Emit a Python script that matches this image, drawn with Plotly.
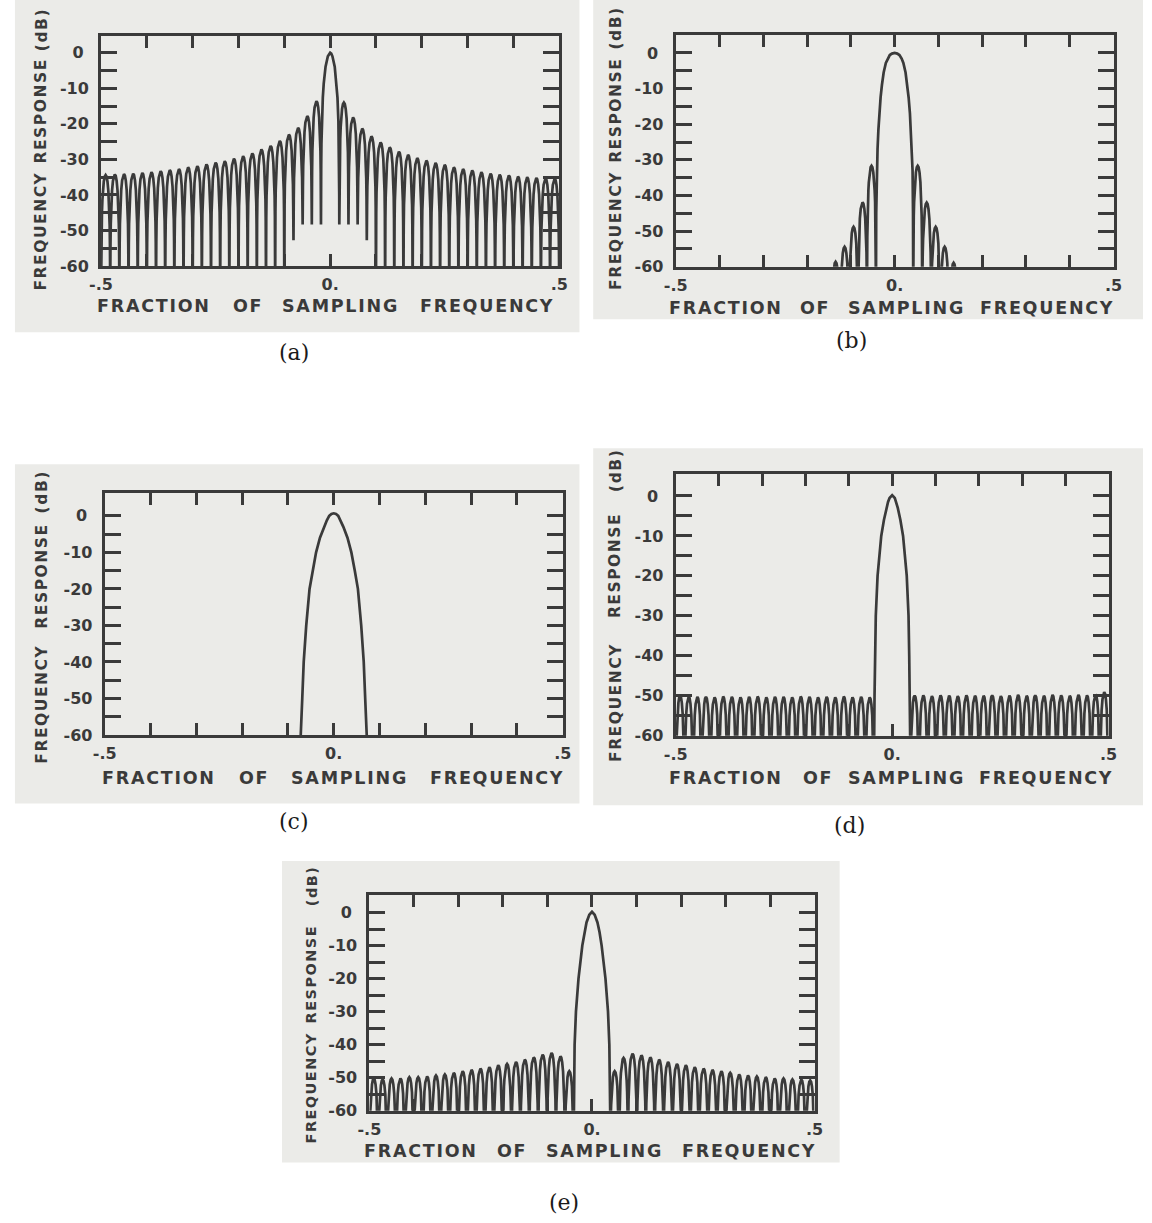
import plotly.graph_objects as go

W, H = 1152, 1223
INK = "#3a3a3a"
SCAN = "#ebebe8"
FLOOR = -66.0  # depth used for nulls that fall below the plotted range

# ---------------- axes ----------------
X_TICK_VALUES = [-0.5, -0.4, -0.3, -0.2, -0.1, 0.0, 0.1, 0.2, 0.3, 0.4, 0.5]
X_TICK_LABELS = ["-.5", "", "", "", "", "0.", "", "", "", "", ".5"]
Y_TICK_VALUES = [-60, -55, -50, -45, -40, -35, -30, -25, -20, -15, -10, -5, 0]
Y_TICK_LABELS = ["-60", "", "-50", "", "-40", "", "-30", "", "-20", "", "-10", "", "0\u2004"]

X_TITLE_WORDS = ["FRACTION", "OF", "SAMPLING", "FREQUENCY"]
Y_TITLE_WORDS = ["FREQUENCY", "RESPONSE", "(dB)"]
PANEL_LABELS = ["(a)", "(b)", "(c)", "(d)", "(e)"]

# drawing profile of one sidelobe (position within lobe, dB relative to lobe peak)
LOBE_POS = [0.03, 0.06, 0.10, 0.15, 0.20, 0.30, 0.40, 0.50, 0.60, 0.70, 0.80, 0.85, 0.90, 0.94, 0.97]
LOBE_DB = [-20.0, -14.0, -10.2, -6.9, -4.6, -1.8, -0.4, 0.0, -0.4, -1.8, -4.6, -6.9, -10.2, -14.0, -20.0]

# ---------------- (a) ----------------
A_MAIN_F = [0.0, 0.0025, 0.005, 0.010, 0.014, 0.016, 0.018, 0.019, 0.0195, 0.0198, 0.020]
A_MAIN_DB = [0.0, -0.25, -1.0, -3.9, -8.7, -12.6, -19.2, -25.6, -31.8, -40.0, -48.3]
A_PEAKS_LEFT = [-13.6, -17.8, -21.1, -23.0, -24.8, -26.2, -27.2, -28.3, -29.1, -29.8, -30.5, -30.9,
                -31.4, -31.9, -32.2, -32.7, -33.0, -33.3, -33.6, -33.8, -34.0, -34.1, -34.2, -34.4]
A_PEAKS_RIGHT = [-14.0, -18.2, -21.3, -23.5, -25.2, -26.6, -27.8, -28.7, -29.6, -30.3, -31.0, -31.5,
                 -32.2, -32.7, -33.1, -33.6, -34.0, -34.3, -34.5, -34.8, -35.0, -35.2, -35.3, -35.4]
A_NULLS = [-48.3, -48.3, -52.7]
A_LOBE_W = 0.02

# ---------------- (b) ----------------
B_MAIN_F = [0.0, 0.006, 0.011, 0.016, 0.020, 0.025, 0.029, 0.032, 0.035, 0.037, 0.039, 0.041, 0.042, 0.0425]
B_MAIN_DB = [0.0, -0.2, -0.6, -1.6, -2.8, -5.5, -9.0, -12.5, -17.0, -21.5, -27.0, -33.0, -45.0, -66.0]
B_PEAKS_LEFT = [-31.7, -41.9, -48.8, -54.4, -58.6]
B_PEAKS_RIGHT = [-31.7, -42.0, -48.8, -54.4, -58.9]
B_NULLS = []
B_LOBE_W = 0.0205

# ---------------- (c) ----------------
C_MAIN_F = [0.0, 0.005, 0.0099, 0.015, 0.021, 0.030, 0.0385, 0.046, 0.0528, 0.060, 0.0655, 0.0687, 0.0726, 0.074]
C_MAIN_DB = [0.7, 0.5, 0.0, -1.2, -3.0, -6.0, -10.0, -15.0, -20.0, -30.0, -40.0, -50.0, -60.0, -66.0]
C_PEAKS_LEFT = []
C_PEAKS_RIGHT = []
C_NULLS = []
C_LOBE_W = 0.02

# ---------------- (d) ----------------
D_MAIN_F = [0.0, 0.006, 0.0095, 0.013, 0.019, 0.0252, 0.0337, 0.0378, 0.0394, 0.0407, 0.042]
D_MAIN_DB = [0.2, -0.5, -1.5, -3.0, -6.0, -10.0, -20.0, -30.0, -40.0, -50.0, -66.0]
D_PEAKS_LEFT = [-50.4, -50.3, -50.4, -50.2, -50.4, -50.3, -50.4, -50.3, -50.2, -50.4, -50.3, -50.3,
                -50.4, -50.2, -50.3, -50.4, -50.3, -50.2, -50.4, -50.3, -50.3, -50.2, -50.0]
D_PEAKS_RIGHT = [-50.0, -49.9, -50.1, -49.9, -50.0, -50.1, -49.9, -50.0, -50.0, -49.9, -50.1, -50.0,
                 -49.8, -50.0, -49.9, -50.0, -49.8, -49.9, -50.0, -49.8, -49.9, -49.7, -49.1]
D_NULLS = []
D_LOBE_W = 0.0199

# ---------------- (e) ----------------
E_MAIN_F = [0.0, 0.006, 0.0123, 0.017, 0.0217, 0.0303, 0.036, 0.039, 0.0406, 0.041]
E_MAIN_DB = [0.2, -0.7, -3.0, -6.0, -10.0, -20.0, -30.0, -40.0, -50.0, -66.0]
E_PEAKS_LEFT = [-48.0, -43.5, -42.5, -43.0, -43.8, -44.5, -45.2, -45.8, -46.2, -46.8, -47.2, -47.6,
                -48.0, -48.5, -49.0, -49.3, -49.6, -49.8, -49.8, -50.2, -50.2, -50.5, -50.2]
E_PEAKS_RIGHT = [-48.0, -44.0, -42.7, -43.2, -43.8, -44.5, -45.2, -45.8, -46.2, -46.8, -47.2, -47.6,
                 -48.0, -48.5, -49.0, -49.3, -49.6, -49.8, -50.2, -50.2, -50.5, -50.5, -50.8]
E_NULLS = []
E_LOBE_W = 0.01996

SERIES = [
    (A_MAIN_F, A_MAIN_DB, A_PEAKS_LEFT, A_PEAKS_RIGHT, A_NULLS, A_LOBE_W),
    (B_MAIN_F, B_MAIN_DB, B_PEAKS_LEFT, B_PEAKS_RIGHT, B_NULLS, B_LOBE_W),
    (C_MAIN_F, C_MAIN_DB, C_PEAKS_LEFT, C_PEAKS_RIGHT, C_NULLS, C_LOBE_W),
    (D_MAIN_F, D_MAIN_DB, D_PEAKS_LEFT, D_PEAKS_RIGHT, D_NULLS, D_LOBE_W),
    (E_MAIN_F, E_MAIN_DB, E_PEAKS_LEFT, E_PEAKS_RIGHT, E_NULLS, E_LOBE_W),
]

# ---------------- page layout (pixels) ----------------
PANELS = [
    dict(box=(90.7, 36.0, 557.4, 268.3), ytop=4.8, patch=(3, 0, 578, 335), cap=(287, 355),
         xt_y=309, xt_x=(143.5, 240, 334, 483), yt_x=30, yt_y=(233, 112, 30), yt_size=15.5),
    dict(box=(676, 35.0, 1122, 269.0), ytop=5.1, patch=(592, 0, 1152, 322), cap=(855, 343),
         xt_y=311, xt_x=(726, 817, 910, 1054), yt_x=615, yt_y=(233, 112, 29), yt_size=15.5),
    dict(box=(94.4, 497.3, 561, 741.0), ytop=6.2, patch=(3, 468, 578, 810), cap=(287, 828),
         xt_y=784, xt_x=(149, 246, 343, 494), yt_x=31, yt_y=(710, 581, 496), yt_size=15.5),
    dict(box=(676, 478.3, 1117, 741.7), ytop=5.4, patch=(592, 452, 1152, 812), cap=(853, 832),
         xt_y=784, xt_x=(726, 820, 910, 1053), yt_x=615, yt_y=(709, 571, 475), yt_size=15.5),
    dict(box=(364, 902.7, 817.5, 1120.0), ytop=5.2, patch=(275, 868, 843, 1172), cap=(562, 1212),
         xt_y=1160, xt_x=(416, 509, 602, 750), yt_x=305, yt_y=(1097, 983, 894), yt_size=14.5),
]


def side(main_f, main_db, peaks, nulls, lobe_w, sign):
    xs = [sign * f for f in main_f]
    ys = list(main_db)
    f0 = main_f[-1]
    for k, peak in enumerate(peaks):
        start = f0 + k * lobe_w
        for u, off in zip(LOBE_POS, LOBE_DB):
            xs.append(sign * (start + u * lobe_w))
            ys.append(peak + off)
        xs.append(sign * (start + lobe_w))
        ys.append(nulls[k] if k < len(nulls) else FLOOR)
    return xs, ys


def spaced(word):
    return "\u200a".join(word)


fig = go.Figure()
shapes, annotations = [], []
layout_axes = {}
TICK_FONT = dict(family="DejaVu Sans", size=16, color=INK, weight="bold")

for i, (panel, series) in enumerate(zip(PANELS, SERIES), start=1):
    main_f, main_db, pl, pr, nulls, lw = series
    lx, ly = side(main_f, main_db, pl, nulls, lw, -1)
    rx, ry = side(main_f, main_db, pr, nulls, lw, 1)
    x = lx[::-1] + rx[1:]
    y = ly[::-1] + ry[1:]
    xa = "x" if i == 1 else f"x{i}"
    ya = "y" if i == 1 else f"y{i}"
    fig.add_trace(go.Scatter(x=x, y=y, mode="lines", line=dict(color=INK, width=2.7),
                             xaxis=xa, yaxis=ya, showlegend=False, hoverinfo="skip"))

    x0, y0, x1, y1 = panel["box"]
    px0, py0, px1, py1 = panel["patch"]
    shapes.append(dict(type="rect", xref="paper", yref="paper", layer="below",
                       x0=px0 / W, x1=px1 / W, y0=1 - py1 / H, y1=1 - py0 / H,
                       fillcolor=SCAN, line=dict(width=0)))
    xkey = "xaxis" if i == 1 else f"xaxis{i}"
    ykey = "yaxis" if i == 1 else f"yaxis{i}"
    layout_axes[xkey] = dict(domain=[x0 / W, x1 / W], range=[-0.5, 0.5], anchor=ya,
                             tickmode="array", tickvals=X_TICK_VALUES, ticktext=X_TICK_LABELS,
                             ticks="inside", ticklen=12, tickwidth=3, tickcolor=INK,
                             showline=True, linewidth=3, linecolor=INK, mirror="ticks",
                             showgrid=False, zeroline=False, tickfont=TICK_FONT,
                             ticklabelstandoff=2, fixedrange=True)
    layout_axes[ykey] = dict(domain=[1 - y1 / H, 1 - y0 / H], range=[-60, panel["ytop"]], anchor=xa,
                             tickmode="array", tickvals=Y_TICK_VALUES, ticktext=Y_TICK_LABELS,
                             ticks="inside", ticklen=16, tickwidth=3, tickcolor=INK,
                             showline=True, linewidth=3, linecolor=INK, mirror="ticks",
                             showgrid=False, zeroline=False, tickfont=TICK_FONT,
                             ticklabelstandoff=6, fixedrange=True)

    for word, cx in zip(X_TITLE_WORDS, panel["xt_x"]):
        annotations.append(dict(text=spaced(word), x=cx / W, y=1 - panel["xt_y"] / H,
                                xref="paper", yref="paper", showarrow=False,
                                xanchor="center", yanchor="middle",
                                font=dict(family="DejaVu Sans", size=17.5, color=INK, weight="bold")))
    for word, cy in zip(Y_TITLE_WORDS, panel["yt_y"]):
        annotations.append(dict(text=spaced(word), x=panel["yt_x"] / W, y=1 - cy / H,
                                xref="paper", yref="paper", showarrow=False, textangle=-90,
                                xanchor="center", yanchor="middle",
                                font=dict(family="DejaVu Sans", size=panel["yt_size"],
                                          color=INK, weight="bold")))
    cx, cy = panel["cap"]
    annotations.append(dict(text=PANEL_LABELS[i - 1], x=cx / W, y=1 - cy / H,
                            xref="paper", yref="paper", showarrow=False,
                            xanchor="center", yanchor="middle",
                            font=dict(family="DejaVu Serif", size=22, color="#1a1a1a")))

fig.update_layout(width=W, height=H, autosize=False, margin=dict(l=0, r=0, t=0, b=0),
                  paper_bgcolor="white", plot_bgcolor=SCAN, shapes=shapes,
                  annotations=annotations, showlegend=False, **layout_axes)

fig.write_html("out.html", include_plotlyjs=True, config={"displayModeBar": False, "staticPlot": True})
